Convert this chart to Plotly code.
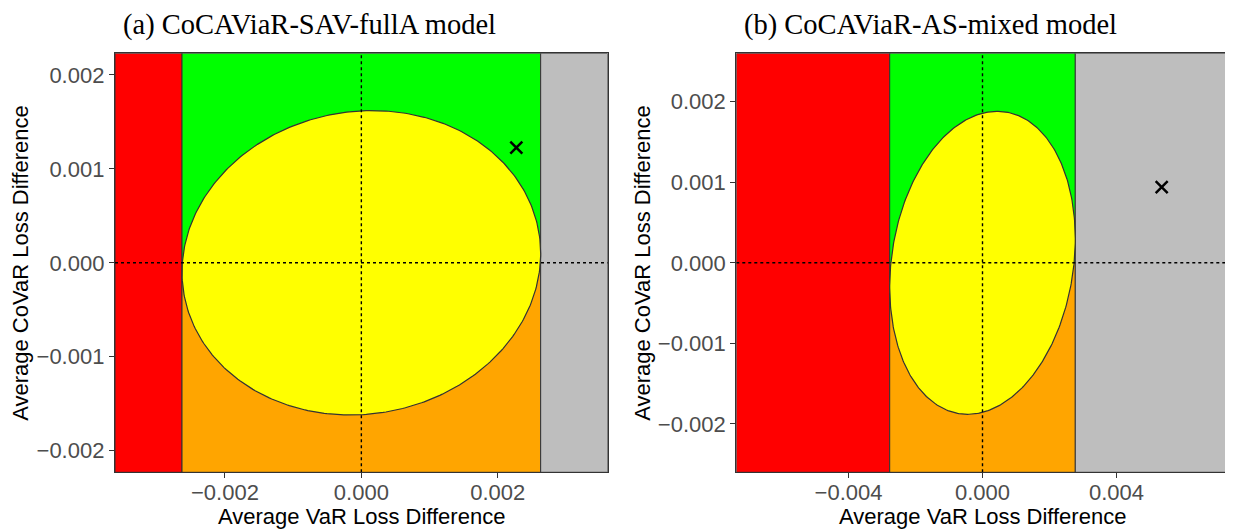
import numpy as np
import plotly.graph_objects as go

# ---------------- data ----------------
panel_titles = ["(a) CoCAViaR-SAV-fullA model", "(b) CoCAViaR-AS-mixed model"]
x_title = "Average VaR Loss Difference"
y_title = "Average CoVaR Loss Difference"

x_limits = [0.003613, 0.00735]          # half-width of the x range
y_limits = [0.00223, 0.0026]            # half-height of the y range
region_bound = [0.00263, 0.00277]       # VaR bound of the middle region
ellipse_x_half = [0.00263, 0.00277]     # ellipse horizontal half-extent
ellipse_y_half = [0.00162, 0.00188]     # ellipse vertical half-extent
ellipse_top_x = [0.00016, 0.00044]      # x-position of ellipse top point
point_x = [0.002273, 0.005349]
point_y = [0.001225, 0.00094]

x_tickvals = [[-0.002, 0.0, 0.002], [-0.004, 0.0, 0.004]]
x_ticktext = [["\u22120.002", "0.000", "0.002"], ["\u22120.004", "0.000", "0.004"]]
y_tickvals = [-0.002, -0.001, 0.0, 0.001, 0.002]
y_ticktext = ["\u22120.002", "\u22120.001", "0.000", "0.001", "0.002"]

region_colors = {"left": "#FF0000", "upper": "#00FF00", "lower": "#FFA500",
                 "right": "#BEBEBE", "ellipse": "#FFFF00"}

# ---------------- layout geometry ----------------
# the page body has an 8px margin, so the figure is placed at (8, 8)
OFF = 8
W, H = 1233 - OFF, 531 - OFF


def px(x):
    return (x - OFF) / W


def py(y):
    return 1 - (y - OFF) / H


x_domains = [[px(115), px(607.7)], [px(736.3), px(1228.7)]]
y_domain = [py(472.3), py(53.3)]
title_x = [px(309), px(930)]
ytitle_x = [px(21), px(643)]

fig = go.Figure()
shapes = []
annotations = []
edge = "#333333"
sans = "Liberation Sans"

for i in range(2):
    xa = "x" if i == 0 else "x2"
    ya = "y" if i == 0 else "y2"
    XL, YL, B = x_limits[i], y_limits[i], region_bound[i]

    # background regions
    for (x0, x1, y0, y1, key) in [(-XL, -B, -YL, YL, "left"),
                                  (-B, B, 0, YL, "upper"),
                                  (-B, B, -YL, 0, "lower"),
                                  (B, XL, -YL, YL, "right")]:
        shapes.append(dict(type="rect", xref=xa, yref=ya, x0=x0, x1=x1, y0=y0, y1=y1,
                           fillcolor=region_colors[key], line=dict(color=edge, width=1),
                           layer="below"))

    # ellipse
    X, Y = ellipse_x_half[i], ellipse_y_half[i]
    phi = np.arcsin(ellipse_top_x[i] / X)
    t = np.linspace(0, 2 * np.pi, 400)
    fig.add_trace(go.Scatter(x=X * np.cos(t), y=Y * np.sin(t + phi), mode="lines",
                             fill="toself", fillcolor=region_colors["ellipse"],
                             line=dict(color=edge, width=1.2), xaxis=xa, yaxis=ya,
                             hoverinfo="skip", showlegend=False))

    # dotted reference lines
    shapes.append(dict(type="line", xref=xa, yref=ya, x0=0, x1=0, y0=-YL, y1=YL,
                       line=dict(color="black", width=1.4, dash="dot"), layer="above"))
    shapes.append(dict(type="line", xref=xa, yref=ya, x0=-XL, x1=XL, y0=0, y1=0,
                       line=dict(color="black", width=1.4, dash="dot"), layer="above"))

    # observed point
    fig.add_trace(go.Scatter(x=[point_x[i]], y=[point_y[i]], mode="markers",
                             marker=dict(symbol="x-thin", size=12, color="black",
                                         line=dict(color="black", width=2.5)),
                             xaxis=xa, yaxis=ya, showlegend=False))

    # sub-figure caption
    annotations.append(dict(text=panel_titles[i], xref="paper", yref="paper",
                            x=title_x[i], y=1, xanchor="center", yanchor="top",
                            showarrow=False, borderpad=0,
                            font=dict(family="Liberation Serif", size=28.5, color="black")))
    # axis titles
    annotations.append(dict(text=x_title, xref="paper", yref="paper",
                            x=sum(x_domains[i]) / 2, y=py(516),
                            xanchor="center", yanchor="middle", showarrow=False,
                            font=dict(family=sans, size=22, color="black")))
    annotations.append(dict(text=y_title, xref="paper", yref="paper",
                            x=ytitle_x[i], y=sum(y_domain) / 2, textangle=-90,
                            xanchor="center", yanchor="middle", showarrow=False,
                            font=dict(family=sans, size=22, color="black")))

axis_common = dict(showgrid=False, zeroline=False, showline=True, linecolor=edge,
                   linewidth=1.3, mirror=True, ticks="outside", ticklen=5,
                   tickcolor=edge, tickwidth=1.1,
                   tickfont=dict(family=sans, size=22, color="#4D4D4D"))

layout = dict(width=W, height=H, margin=dict(l=0, r=0, t=0, b=0),
              paper_bgcolor="white", plot_bgcolor="white", showlegend=False,
              shapes=shapes, annotations=annotations)

for i in range(2):
    sx = "" if i == 0 else "2"
    layout["xaxis" + sx] = dict(axis_common, domain=x_domains[i], range=[-x_limits[i], x_limits[i]],
                                tickvals=x_tickvals[i], ticktext=x_ticktext[i],
                                ticklabelstandoff=-5, anchor="y" + sx)
    layout["yaxis" + sx] = dict(axis_common, domain=y_domain, range=[-y_limits[i], y_limits[i]],
                                tickvals=y_tickvals, ticktext=y_ticktext,
                                anchor="x" + sx)

fig.update_layout(**layout)
fig.write_html("out.html")
